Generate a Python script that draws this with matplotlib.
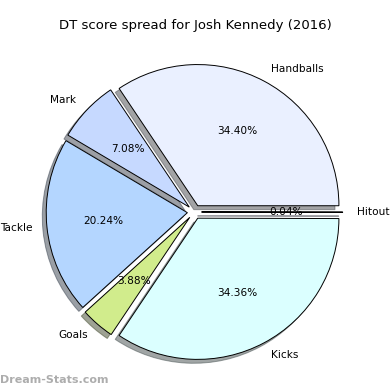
import matplotlib
matplotlib.use('Agg')
import matplotlib.pyplot as plt

#data
labels = ['Handballs', 'Mark', 'Tackle', 'Goals', 'Kicks', 'Hitout']
values = [34.40, 7.08, 20.24, 3.88, 34.36, 0.04]
colors = ['#eaf0ff', '#c6d9ff', '#b4d6ff', '#d1ec8c', '#dbffff', '#e0e0ff']

fig = plt.figure(figsize=(3.9, 3.9), dpi=100)
ax = fig.add_axes([0.046, 0.004, 0.905, 0.905])
explode = [0.05] * len(values)
wedges, texts, autotexts = ax.pie(values, labels=labels, colors=colors,
                                  explode=explode, autopct='%.2f%%',
                                  startangle=0, shadow=True,
                                  wedgeprops={'edgecolor': 'black', 'linewidth': 0.7},
                                  textprops={'fontsize': 7.6})
ax.set_aspect('equal')
fig.text(0.5, 0.935, 'DT score spread for Josh Kennedy (2016)', ha='center', va='center', fontsize=9.5)
fig.text(0.0, 0.025, 'Dream-Stats.com', ha='left', va='center', fontsize=8, color='#999999', fontweight='bold', alpha=0.8)
fig.savefig('out.png', dpi=100)
